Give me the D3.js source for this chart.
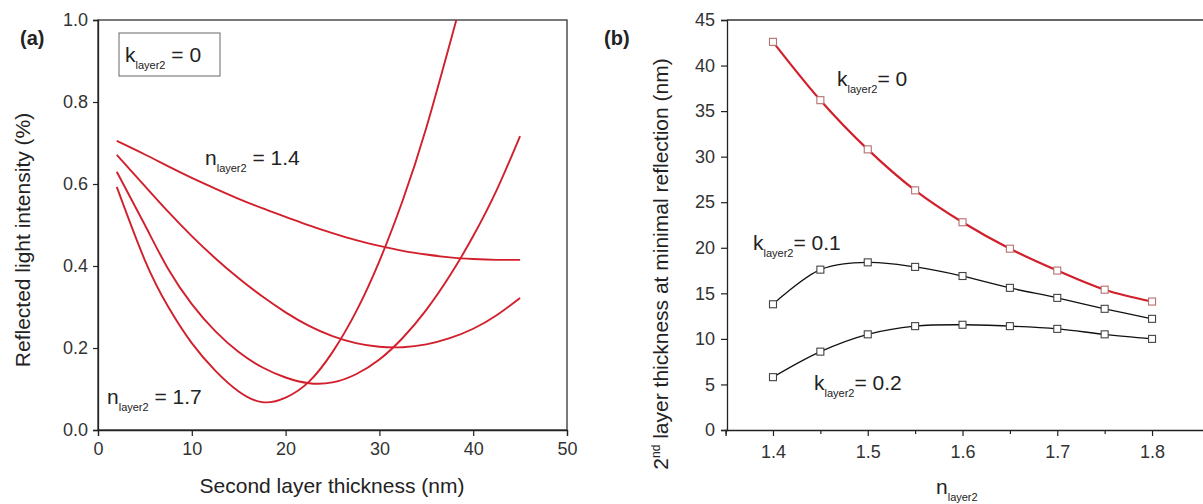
<!DOCTYPE html>
<html><head><meta charset="utf-8">
<script src="https://cdn.jsdelivr.net/npm/d3@7"></script>
<style>
body{margin:0;background:#fff;}
svg{display:block;font-family:"Liberation Sans",Arial,sans-serif;}
</style></head>
<body><svg id="c" width="1203" height="504"></svg>
<script>
// ---- Panel (a) data: thickness (nm) vs reflected intensity (%)
const thicknessA = [2, 5, 7.5, 10, 12.5, 15, 17.5, 20, 22.5, 25, 27.5, 30, 32.5, 35, 37.5, 40, 42.5, 45];
const refl14 = [0.705, 0.672, 0.643, 0.615, 0.589, 0.564, 0.541, 0.520, 0.499, 0.480, 0.463, 0.449, 0.437, 0.428, 0.421, 0.417, 0.415, 0.415];
const refl15 = [0.671, 0.595, 0.532, 0.473, 0.419, 0.370, 0.326, 0.287, 0.254, 0.229, 0.212, 0.203, 0.202, 0.209, 0.224, 0.247, 0.280, 0.322];
const refl16 = [0.630, 0.500, 0.392, 0.307, 0.241, 0.190, 0.153, 0.128, 0.114, 0.116, 0.136, 0.172, 0.225, 0.293, 0.376, 0.473, 0.585, 0.717];
const thickness17 = [2, 5, 7.5, 10, 12.5, 15, 17.5, 20, 22.5, 25, 27.5, 30, 32.5, 35, 38.2];
const refl17 = [0.593, 0.414, 0.300, 0.212, 0.145, 0.094, 0.068, 0.079, 0.118, 0.190, 0.288, 0.412, 0.561, 0.737, 1.000];
const xTicksA = [0, 10, 20, 30, 40, 50];
const yTicksA = [0.0, 0.2, 0.4, 0.6, 0.8, 1.0];

// ---- Panel (b) data: n_layer2 vs 2nd layer thickness at minimal reflection (nm)
const nLayer2 = [1.40, 1.45, 1.50, 1.55, 1.60, 1.65, 1.70, 1.75, 1.80];
const thickK0 = [42.6, 36.2, 30.8, 26.3, 22.8, 19.9, 17.5, 15.4, 14.1];
const thickK01 = [13.8, 17.6, 18.4, 17.9, 16.9, 15.6, 14.5, 13.3, 12.2];
const thickK02 = [5.8, 8.6, 10.5, 11.4, 11.55, 11.4, 11.1, 10.5, 10.0];
const xTicksB = [1.4, 1.5, 1.6, 1.7, 1.8];
const xMinorB = [1.35, 1.45, 1.55, 1.65, 1.75];
const yTicksB = [0, 5, 10, 15, 20, 25, 30, 35, 40, 45];

const RED = "#d21f2c";
const svg = d3.select("#c");

function sub(sel, main, subTxt, rest, fs, sfs){
  sel.append("tspan").text(main);
  sel.append("tspan").attr("font-size", sfs).attr("dy", 7).text(subTxt);
  sel.append("tspan").attr("dy", -7).text(rest);
}

// ================= Panel (a) =================
const xA = d3.scaleLinear().domain([0, 50]).range([98, 567]);
const yA = d3.scaleLinear().domain([0, 1]).range([430, 20]);
const gA = svg.append("g");

gA.append("defs").append("clipPath").attr("id", "clipA")
  .append("rect").attr("x", 98).attr("y", 20).attr("width", 469).attr("height", 410);

// frame
gA.append("rect").attr("x", 98).attr("y", 20).attr("width", 469).attr("height", 410)
  .attr("fill", "none").attr("stroke", "#333").attr("stroke-width", 1.3);

const axXA = gA.append("g").attr("transform", "translate(0,430)")
  .call(d3.axisBottom(xA).tickValues(xTicksA).tickFormat(d3.format("d")).tickSize(6).tickPadding(6));
const axYA = gA.append("g").attr("transform", "translate(98,0)")
  .call(d3.axisLeft(yA).tickValues(yTicksA).tickFormat(d3.format(".1f")).tickSize(5).tickPadding(5));
[axXA, axYA].forEach(a => {
  a.selectAll("path.domain").attr("stroke", "#222").attr("stroke-width", 1.3);
  a.selectAll(".tick line").attr("stroke", "#222").attr("stroke-width", 1.2);
  a.selectAll("text").attr("font-size", 18).attr("fill", "#333").attr("font-family", "Liberation Sans, Arial, sans-serif");
});

const lineA = d3.line().x(d => xA(d[0])).y(d => yA(d[1])).curve(d3.curveNatural);
const seriesA = [
  d3.zip(thicknessA, refl14), d3.zip(thicknessA, refl15),
  d3.zip(thicknessA, refl16), d3.zip(thickness17, refl17)
];
gA.append("g").attr("clip-path", "url(#clipA)").selectAll("path").data(seriesA).join("path")
  .attr("d", lineA).attr("fill", "none").attr("stroke", RED).attr("stroke-width", 1.9);

// labels
gA.append("text").attr("x", 20).attr("y", 45).attr("font-size", 20).attr("font-weight", "bold").attr("fill", "#222").text("(a)");
gA.append("rect").attr("x", 119).attr("y", 33).attr("width", 101).attr("height", 43)
  .attr("fill", "#fff").attr("stroke", "#666").attr("stroke-width", 1);
sub(gA.append("text").attr("x", 125).attr("y", 62).attr("font-size", 21).attr("fill", "#222"), "k", "layer2", " = 0", 21, 11);
sub(gA.append("text").attr("x", 205).attr("y", 165).attr("font-size", 21).attr("fill", "#222"), "n", "layer2", " = 1.4", 21, 11);
sub(gA.append("text").attr("x", 107).attr("y", 404).attr("font-size", 21).attr("fill", "#222"), "n", "layer2", " = 1.7", 21, 11);

gA.append("text").attr("x", 332).attr("y", 493).attr("text-anchor", "middle").attr("font-size", 21).attr("fill", "#222")
  .text("Second layer thickness (nm)");
gA.append("text").attr("transform", "translate(30,240) rotate(-90)").attr("text-anchor", "middle").attr("font-size", 21).attr("fill", "#222")
  .text("Reflected light intensity (%)");

// ================= Panel (b) =================
const xB = d3.scaleLinear().domain([1.35, 1.86]).range([725.6, 1208.9]);
const yB = d3.scaleLinear().domain([0, 45]).range([430, 20]);
const gB = svg.append("g");

gB.append("line").attr("x1", 727).attr("x2", 1210).attr("y1", 20).attr("y2", 20).attr("stroke", "#333").attr("stroke-width", 1.3);

const axXB = gB.append("g").attr("transform", "translate(0,430)")
  .call(d3.axisBottom(xB).tickValues(xTicksB).tickFormat(d3.format(".1f")).tickSize(6).tickPadding(9));
gB.append("g").attr("transform", "translate(0,430)")
  .call(d3.axisBottom(xB).tickValues(xMinorB).tickFormat("").tickSize(4))
  .call(a => a.select("path.domain").remove())
  .selectAll(".tick line").attr("stroke", "#222").attr("stroke-width", 1.2);
const axYB = gB.append("g").attr("transform", "translate(727,0)")
  .call(d3.axisLeft(yB).tickValues(yTicksB).tickFormat(d3.format("d")).tickSize(6).tickPadding(6));
[axXB, axYB].forEach(a => {
  a.selectAll("path.domain").attr("stroke", "#222").attr("stroke-width", 1.3);
  a.selectAll(".tick line").attr("stroke", "#222").attr("stroke-width", 1.2);
  a.selectAll("text").attr("font-size", 18).attr("fill", "#333").attr("font-family", "Liberation Sans, Arial, sans-serif");
});

const lineB = d3.line().x(d => xB(d[0])).y(d => yB(d[1])).curve(d3.curveCatmullRom.alpha(0.5));
const seriesB = [
  {v: thickK0, line: RED, lw: 2.2, mark: "#b5706f"},
  {v: thickK01, line: "#111", lw: 1.3, mark: "#444"},
  {v: thickK02, line: "#111", lw: 1.3, mark: "#444"}
];
seriesB.forEach(s => {
  const pts = d3.zip(nLayer2, s.v);
  gB.append("path").attr("d", lineB(pts)).attr("fill", "none").attr("stroke", s.line).attr("stroke-width", s.lw);
  gB.append("g").selectAll("rect").data(pts).join("rect")
    .attr("x", d => xB(d[0]) - 3.5).attr("y", d => yB(d[1]) - 3.5)
    .attr("width", 7).attr("height", 7)
    .attr("fill", "#fff").attr("stroke", s.mark).attr("stroke-width", 1.1);
});

gB.append("text").attr("x", 604).attr("y", 45).attr("font-size", 20).attr("font-weight", "bold").attr("fill", "#222").text("(b)");
sub(gB.append("text").attr("x", 837).attr("y", 86).attr("font-size", 21).attr("fill", "#222"), "k", "layer2", "= 0", 21, 11);
sub(gB.append("text").attr("x", 753).attr("y", 250).attr("font-size", 21).attr("fill", "#222"), "k", "layer2", "= 0.1", 21, 11);
sub(gB.append("text").attr("x", 814).attr("y", 390).attr("font-size", 21).attr("fill", "#222"), "k", "layer2", "= 0.2", 21, 11);

const xt = gB.append("text").attr("x", 936).attr("y", 494).attr("font-size", 21).attr("fill", "#222");
xt.append("tspan").text("n");
xt.append("tspan").attr("font-size", 11).attr("dy", 7).text("layer2");

const yt = gB.append("text").attr("transform", "translate(668,264) rotate(-90)").attr("text-anchor", "middle").attr("font-size", 21).attr("fill", "#222");
yt.append("tspan").text("2");
yt.append("tspan").attr("font-size", 12).attr("dy", -8).text("nd");
yt.append("tspan").attr("dy", 8).text(" layer thickness at minimal reflection (nm)");
</script>
</body></html>
